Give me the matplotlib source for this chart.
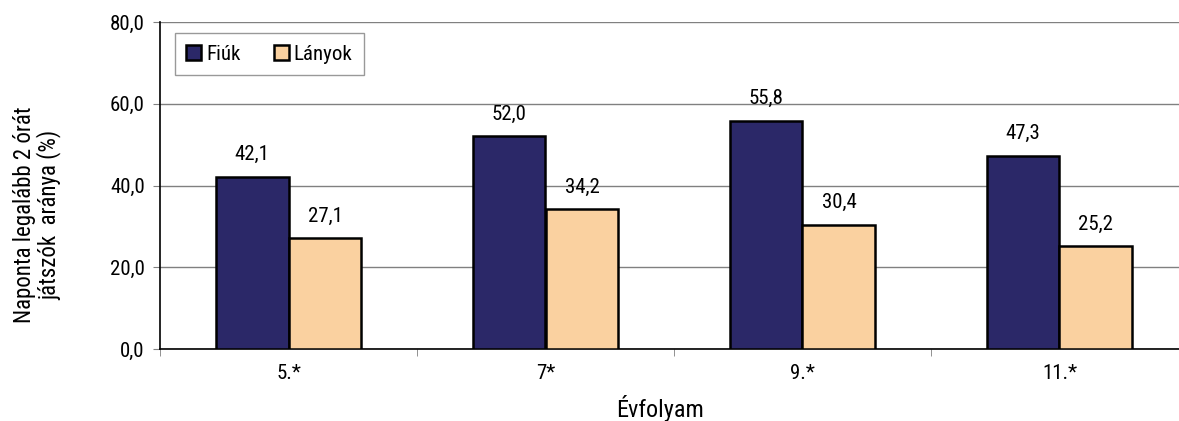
import matplotlib

matplotlib.use("Agg")
import matplotlib.pyplot as plt
import numpy as np
from matplotlib.ticker import FuncFormatter

plt.rcParams["font.family"] = ["Roboto Condensed", "Archivo Narrow", "DejaVu Sans"]

grades = ["5.*", "7*", "9.*", "11.*"]
boys = [42.1, 52.0, 55.8, 47.3]
girls = [27.1, 34.2, 30.4, 25.2]

BOY_COLOR = "#2b2868"
GIRL_COLOR = "#fad1a0"


def comma(v):
    return f"{v:.1f}".replace(".", ",")


fig = plt.figure(figsize=(11.79, 4.21), dpi=100)
# plot area runs slightly past the right edge of the canvas
ax = fig.add_axes([160 / 1179, 1 - 349 / 421, 1028 / 1179, 327 / 421])

x = np.arange(len(grades))
width = 0.284
bars_b = ax.bar(x - width / 2, boys, width, color=BOY_COLOR, edgecolor="black",
                linewidth=1.8, label="Fiúk", zorder=3)
bars_g = ax.bar(x + width / 2, girls, width, color=GIRL_COLOR, edgecolor="black",
                linewidth=1.8, label="Lányok", zorder=3)

for bars, vals in ((bars_b, boys), (bars_g, girls)):
    for rect, v in zip(bars, vals):
        ax.text(rect.get_x() + rect.get_width() / 2, v + 5.4, comma(v),
                ha="center", va="center", fontsize=15)

ax.set_xlim(-0.5, len(grades) - 0.5)
ax.set_ylim(0, 80)
ax.set_yticks([0, 20, 40, 60, 80])
ax.yaxis.set_major_formatter(FuncFormatter(lambda v, _: comma(v)))
ax.set_xticks(x)
ax.set_xticklabels(grades, fontsize=15)
ax.set_xticks(np.arange(len(grades) + 1) - 0.5, minor=True)
ax.tick_params(axis="x", which="major", length=0, pad=11)
ax.tick_params(axis="x", which="minor", length=5, color="#808080", direction="out")
ax.tick_params(axis="y", length=5, color="#808080", labelsize=15, pad=6)

ax.grid(True, axis="y", color="#808080", linewidth=1.0, zorder=0)
for side in ("top", "right"):
    ax.spines[side].set_visible(False)
ax.spines["left"].set_color("black")
ax.spines["bottom"].set_color("black")
ax.spines["left"].set_linewidth(1.2)
ax.spines["bottom"].set_linewidth(1.2)

fig.text(37 / 1179, 1 - 215 / 421, "Naponta legalább 2 órát\njátszók  aránya (%)",
         rotation=90, ha="center", va="center", multialignment="center",
         fontsize=16.5, linespacing=1.05)
fig.text(660 / 1179, 1 - 409 / 421, "Évfolyam", ha="center", va="center", fontsize=17.5)

leg = ax.legend(loc="upper left", bbox_to_anchor=(0.0146, 0.966), ncol=2,
                fontsize=15, frameon=True, fancybox=False, handlelength=0.7,
                handleheight=0.7, handletextpad=0.25, columnspacing=1.6,
                borderpad=0.55, borderaxespad=0)
leg.get_frame().set_edgecolor("#808080")
leg.get_frame().set_linewidth(1.0)

fig.savefig("out.png", dpi=100)
